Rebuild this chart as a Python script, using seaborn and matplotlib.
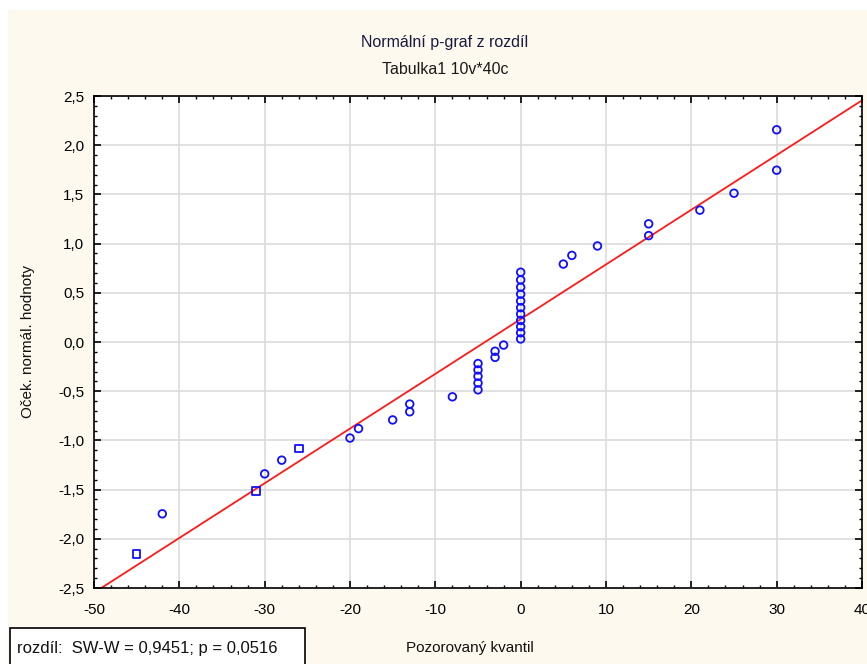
import matplotlib
matplotlib.use("Agg")
import matplotlib.pyplot as plt
from matplotlib.patches import Rectangle
from matplotlib.ticker import MultipleLocator, FuncFormatter
import seaborn as sns
import pandas as pd

# Observed differences (sorted) and their expected normal scores
observed = [-45, -42, -31, -30, -28, -26, -20, -19, -15, -13, -13, -8,
            -5, -5, -5, -5, -5, -3, -3, -2,
            0, 0, 0, 0, 0, 0, 0, 0, 0, 0, 0,
            5, 6, 9, 15, 15, 21, 25, 30, 30]
expected = [-2.157, -1.746, -1.512, -1.340, -1.201, -1.081, -0.976, -0.880,
            -0.792, -0.709, -0.631, -0.557, -0.486, -0.417, -0.349, -0.284,
            -0.219, -0.156, -0.094, -0.031,
            0.031, 0.094, 0.156, 0.219, 0.284, 0.349, 0.417, 0.486, 0.557,
            0.631, 0.709,
            0.792, 0.880, 0.976, 1.081, 1.201, 1.340, 1.512, 1.746, 2.157]
marker_kind = ["sq", "ci", "sq", "ci", "ci", "sq"] + ["ci"] * 34

x_ticks = [-50, -40, -30, -20, -10, 0, 10, 20, 30, 40]
y_ticks = [-2.5, -2.0, -1.5, -1.0, -0.5, 0.0, 0.5, 1.0, 1.5, 2.0, 2.5]

title_main = "Normální p-graf z rozdíl"
title_sub = "Tabulka1 10v*40c"
x_label = "Pozorovaný kvantil"
y_label = "Oček. normál. hodnoty"
test_text = "rozdíl:  SW-W = 0,9451; p = 0,0516"

df = pd.DataFrame({"obs": observed, "exp": expected, "kind": marker_kind})

sns.set_style("white")
plt.rcParams["font.family"] = ["Liberation Sans", "DejaVu Sans"]

W, H = 867, 664
fig = plt.figure(figsize=(W / 100, H / 100), dpi=100, facecolor="white")

# cream panel behind everything
fig.patches.append(Rectangle((8 / W, 0), 1, (H - 10) / H, transform=fig.transFigure,
                             facecolor="#fdf9ef", edgecolor="none", zorder=-10))

ax = fig.add_axes([94 / W, (H - 588) / H, (862 - 94) / W, (588 - 96) / H])
ax.set_zorder(1)
ax.set_facecolor("white")
ax.set_xlim(x_ticks[0], x_ticks[-1])
ax.set_ylim(y_ticks[0], y_ticks[-1])

# least-squares reference line across the whole x range
sns.regplot(data=df, x="obs", y="exp", scatter=False, ci=None, truncate=False,
            line_kws=dict(color="#ff1a1a", lw=1.3), ax=ax)

sns.scatterplot(data=df, x="obs", y="exp", style="kind",
                markers={"ci": "o", "sq": "s"}, s=30, linewidth=1.3,
                legend=False, ax=ax, zorder=3)
for coll in ax.collections:
    coll.set_facecolor("none")
    coll.set_edgecolor("#1010ff")

ax.set_xlim(x_ticks[0], x_ticks[-1])
ax.set_ylim(y_ticks[0], y_ticks[-1])
ax.set_xticks(x_ticks)
ax.set_yticks(y_ticks)
ax.xaxis.set_minor_locator(MultipleLocator(2))
ax.yaxis.set_minor_locator(MultipleLocator(0.1))
ax.xaxis.set_major_formatter(FuncFormatter(lambda v, p: f"{v:.0f}".replace("\u2212", "-")))
ax.yaxis.set_major_formatter(FuncFormatter(lambda v, p: f"{v:.1f}".replace(".", ",")))

ax.grid(True, which="major", color="#dcdcdc", lw=1.2)
ax.set_axisbelow(True)
for sp in ax.spines.values():
    sp.set_color("black")
    sp.set_linewidth(1.2)
    sp.set_visible(True)

ax.tick_params(which="both", direction="in", top=True, right=True,
               bottom=True, left=True, colors="black", labelsize=11)
ax.tick_params(which="major", length=5, width=1.2)
ax.tick_params(which="minor", length=2.5, width=1)
ax.tick_params(axis="x", which="major", pad=11)
ax.tick_params(axis="y", which="major", pad=7)

ax.set_xlabel(x_label, fontsize=11, color="#111111")
ax.set_ylabel(y_label, fontsize=11, color="#111111")
ax.xaxis.label.set_va("center")
ax.yaxis.label.set_va("center")
ax.xaxis.set_label_coords((470 - 94) / (862 - 94), (588 - 648) / (588 - 96))
ax.yaxis.set_label_coords((28 - 94) / (862 - 94), 0.5)

fig.text(445 / W, (H - 42) / H, title_main, ha="center", va="center",
         fontsize=11.5, color="#1a1a40")
fig.text(445 / W, (H - 70) / H, title_sub, ha="center", va="center",
         fontsize=11.5, color="#1a1a1a")

# test statistic box at the lower left
fig.patches.append(Rectangle((10 / W, -0.02), (305 - 10) / W, (H - 628) / H + 0.02,
                             transform=fig.transFigure, facecolor="white",
                             edgecolor="black", lw=1.2, zorder=2))
fig.text(17 / W, (H - 648) / H, test_text, ha="left", va="center",
         fontsize=12, color="#111111", zorder=3)

fig.savefig("out.png", dpi=100, facecolor=fig.get_facecolor())
